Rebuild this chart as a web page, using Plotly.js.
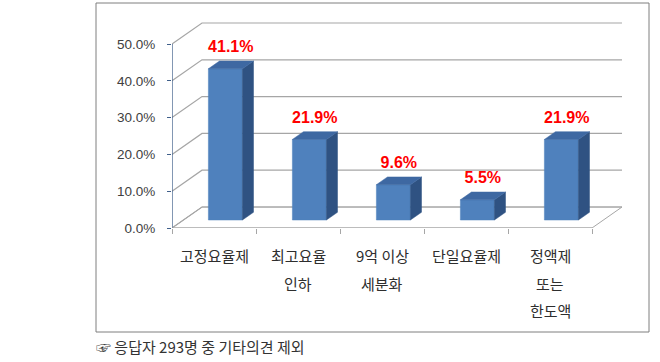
<!DOCTYPE html>
<html>
<head>
<meta charset="utf-8">
<script src="https://cdn.plot.ly/plotly-3.0.1.min.js"></script>
<style>html,body{margin:0;padding:0;background:#fff;}#chart{width:660px;height:362px;}</style>
</head>
<body>
<div id="chart"></div>
<script>
// ---- data ----
const catLine1 = ['고정요율제', '최고요율', '9억 이상', '단일요율제', '정액제'];
const catLine2 = ['', '인하', '세분화', '', '또는'];
const catLine3 = ['', '', '', '', '한도액'];
const values = [41.1, 21.9, 9.6, 5.5, 21.9];
const valueLabels = ['41.1%', '21.9%', '9.6%', '5.5%', '21.9%'];
const yTickVals = [0, 10, 20, 30, 40, 50];
const yTickText = ['0.0%', '10.0%', '20.0%', '30.0%', '40.0%', '50.0%'];
const footnote = '☞ 응답자 293명 중 기타의견 제외';

// ---- 3D oblique geometry (styling) ----
const DX = 0.357;   // full depth, x units
const DZ = 5.7;     // full depth, y units
const F0 = 0.38, F1 = 0.75; // bar depth fraction (front/back)
const BW = 0.405;   // bar width
const n = catLine1.length;
const xL = -0.5, xR = n - 0.5;

const L = 172, R = 36, T = 18, B = 134;
const PW = 660 - L - R, PH = 362 - T - B;
const pxX = 84, pxY = 3.68;
const yMax = PH / pxY;

const traces = [];
const skip = {hoverinfo:'skip', showlegend:false};

// floor
traces.push(Object.assign({x:[xL, xR, xR+DX, xL+DX, xL], y:[0,0,DZ,DZ,0], mode:'lines', fill:'toself',
  fillcolor:'#ffffff', line:{color:'#a6a6a6', width:1}}, skip));

// back wall gridlines
const gx = [], gy = [];
yTickVals.forEach(t => {
  gx.push(xL, xL+DX, xR+DX, null);
  gy.push(t, t+DZ, t+DZ, null);
});
traces.push(Object.assign({x:gx, y:gy, mode:'lines', line:{color:'#a6a6a6', width:1.2}}, skip));

// bars: front, side, top faces
const xFront = values.map((v,i) => i + F0*DX);
const fx = [], fy = [], sx = [], sy = [], tx = [], ty = [];
values.forEach((v,i) => {
  const xr = xFront[i] + BW/2, xl = xFront[i] - BW/2;
  const ddx = (F1-F0)*DX, ddz = (F1-F0)*DZ;
  const b = F0*DZ;
  fx.push(xl, xr, xr, xl, xl, null);
  fy.push(b, b, b+v, b+v, b, null);
  sx.push(xr, xr+ddx, xr+ddx, xr, xr, null);
  sy.push(b, b+ddz, b+v+ddz, b+v, b, null);
  tx.push(xl, xr, xr+ddx, xl+ddx, xl, null);
  ty.push(b+v, b+v, b+v+ddz, b+v+ddz, b+v, null);
});
traces.push(Object.assign({x:fx, y:fy, mode:'lines', fill:'toself', fillcolor:'#4F81BD', line:{width:0.5, color:'#4F81BD'}}, skip));
traces.push(Object.assign({x:sx, y:sy, mode:'lines', fill:'toself', fillcolor:'#2F5282', line:{width:0.5, color:'#2F5282'}}, skip));
traces.push(Object.assign({x:tx, y:ty, mode:'lines', fill:'toself', fillcolor:'#3E68A2', line:{width:0.5, color:'#3E68A2'}}, skip));

// value labels
traces.push(Object.assign({x:values.map((v,i)=>i+0.2), y:values.map(v=>v+7.8), mode:'text', text:valueLabels,
  textposition:'middle center', textfont:{family:'"Liberation Sans", Arial, sans-serif', size:16, color:'#FF0000', weight:'bold'},
  cliponaxis:false}, skip));

// front axis lines
traces.push(Object.assign({x:[xL, xL], y:[0, 50], mode:'lines', line:{color:'#3F5F8A', width:1.3}}, skip));
traces.push(Object.assign({x:[xL, xR], y:[0, 0], mode:'lines', line:{color:'#a6a6a6', width:1.2}}, skip));

// category labels (multi-line, wide line spacing) as annotations
const annotations = [];
[[catLine1,-7.6],[catLine2,-14.95],[catLine3,-22.55]].forEach(([arr, yy]) => {
  arr.forEach((t,i) => {
    if (!t) return;
    annotations.push({x:i, y:yy / yMax, xref:'x', yref:'paper', text:t, showarrow:false,
      xanchor:'center', yanchor:'middle',
      font:{family:'"Noto Sans CJK KR", sans-serif', size:15, color:'#2e2e2e'}});
  });
});

annotations.push({xref:'paper', yref:'paper', x:(94-L)/PW, y:(228-346)/PH, xanchor:'left', yanchor:'middle',
  text:footnote, showarrow:false, font:{family:'"Noto Sans CJK KR", sans-serif', size:15, color:'#333333'}});

const layout = {
  width:660, height:362,
  margin:{l:L, r:R, t:T, b:B, pad:0},
  paper_bgcolor:'#ffffff', plot_bgcolor:'rgba(0,0,0,0)',
  xaxis:{range:[xL, xL + PW/pxX], showgrid:false, zeroline:false, showline:false,
    tickmode:'array', tickvals:[...Array(n+1).keys()].map(k=>k-0.5), ticks:'outside', ticklen:5,
    tickcolor:'#a6a6a6', showticklabels:false, fixedrange:true},
  yaxis:{range:[0, yMax], showgrid:false, zeroline:false, showline:false,
    tickmode:'array', tickvals:yTickVals, ticktext:yTickText, ticks:'outside', ticklen:4,
    tickcolor:'#3F5F8A', ticklabelstandoff:9,
    tickfont:{family:'"Liberation Sans", Arial, sans-serif', size:13.5, color:'#404040'}, fixedrange:true},
  shapes:[{type:'rect', xref:'paper', yref:'paper',
    x0:(96-L)/PW, x1:(649-L)/PW, y0:(228-332)/PH, y1:(228-3)/PH,
    line:{color:'#7f7f7f', width:1}, fillcolor:'rgba(0,0,0,0)', layer:'below'}],
  annotations:annotations,
  showlegend:false
};
Plotly.newPlot('chart', traces, layout, {displayModeBar:false, staticPlot:true});
</script>
</body>
</html>
